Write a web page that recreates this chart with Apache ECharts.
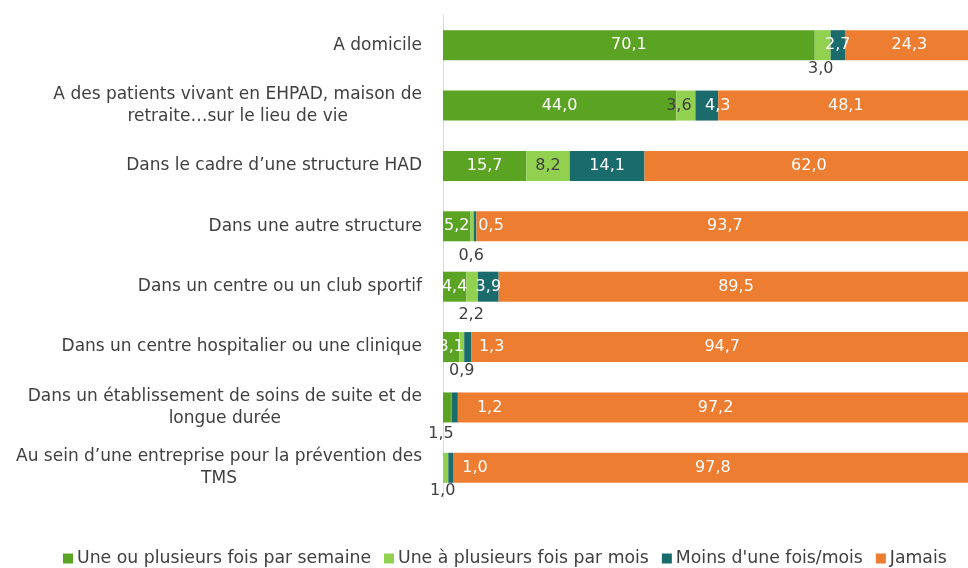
<!DOCTYPE html>
<html>
<head>
<meta charset="utf-8">
<script src="https://cdn.jsdelivr.net/npm/echarts@6/dist/echarts.min.js"></script>
<style>
  html, body { margin: 0; padding: 0; background: #ffffff; }
  #chart { width: 968px; height: 568px; }
</style>
</head>
<body>
<div id="chart"></div>
<script>
// ---- data ----
const categories = [
  "A domicile",
  "A des patients vivant en EHPAD, maison de\nretraite…sur le lieu de vie",
  "Dans le cadre d’une structure HAD",
  "Dans une autre structure",
  "Dans un centre ou un club sportif",
  "Dans un centre hospitalier ou une clinique",
  "Dans un établissement de soins de suite et de\nlongue durée",
  "Au sein d’une entreprise pour la prévention des\nTMS"
];
const seriesNames = [
  "Une ou plusieurs fois par semaine",
  "Une à plusieurs fois par mois",
  "Moins d'une fois/mois",
  "Jamais"
];
const weekly      = [70.1, 44.0, 15.7, 5.2, 4.4, 3.1, 1.5, 0];
const monthly     = [3.0, 3.6, 8.2, 0.6, 2.2, 0.9, 0.1, 1.0];
const lessMonthly = [2.7, 4.3, 14.1, 0.5, 3.9, 1.3, 1.2, 1.0];
const never       = [24.3, 48.1, 62.0, 93.7, 89.5, 94.7, 97.2, 97.8];

// ---- styling ----
const colors = ['#5BA323', '#92D050', '#1A6B6B', '#ED7D31'];
const DARK = '#404040';
const FONT = 'DejaVu Sans';

// label placement tweaks (style only), keyed by series index -> row index
const labelTweaks = {
  0: { 6: { below: true, offset: [-6, 3] }, 7: { hide: true } },
  1: {
    0: { below: true, offset: [-2, 1] },
    1: { dark: true, offset: [-7, 0] },
    2: { dark: true },
    3: { below: true, offset: [-1, 7] },
    4: { below: true, offset: [-1, 5] },
    5: { below: true, offset: [0, 1] },
    6: { hide: true },
    7: { below: true, offset: [-3, 0] }
  },
  2: {
    1: { offset: [11, 0] },
    3: { offset: [16, 0] },
    5: { offset: [24, 0] },
    6: { offset: [35, 0] },
    7: { offset: [24, 0] }
  },
  3: {}
};

const fmt = v => v.toFixed(1).replace('.', ',');

function buildData(values, si) {
  return values.map((v, i) => {
    const t = (labelTweaks[si] || {})[i];
    const item = { value: v };
    if (t) {
      if (t.hide) {
        item.label = { show: false };
      } else if (t.below) {
        item.label = { position: 'bottom', distance: 0, color: DARK };
      } else {
        item.label = { color: t.dark ? DARK : '#ffffff' };
      }
    }
    return item;
  });
}

const allValues = [weekly, monthly, lessMonthly, never];

const series = allValues.map((vals, si) => ({
  name: seriesNames[si],
  type: 'bar',
  stack: 'total',
  barWidth: 30,
  clip: false,
  itemStyle: { color: colors[si] },
  label: {
    show: true,
    position: 'inside',
    color: si === 1 ? DARK : '#ffffff',
    fontFamily: FONT,
    fontSize: 16,
    formatter: p => fmt(p.value)
  },
  labelLayout: function (params) {
    const t = (labelTweaks[si] || {})[params.dataIndex];
    const off = (t && t.offset) || [0, 0];
    return { dx: off[0], dy: off[1], hideOverlap: false };
  },
  emphasis: { disabled: true },
  data: buildData(vals, si)
}));

const chart = echarts.init(document.getElementById('chart'), null, { renderer: 'canvas' });
chart.setOption({
  animation: false,
  backgroundColor: '#ffffff',
  textStyle: { fontFamily: FONT },
  grid: { left: 443, top: 15, right: 0, height: 483, containLabel: false },
  xAxis: {
    type: 'value',
    min: 0,
    max: 99,
    show: false,
    splitLine: { show: false }
  },
  yAxis: {
    type: 'category',
    inverse: true,
    data: categories,
    axisLine: { show: true, lineStyle: { color: '#D9D9D9', width: 1 } },
    axisTick: { show: false },
    axisLabel: {
      margin: 21,
      align: 'right',
      fontFamily: FONT,
      fontSize: 17,
      color: DARK,
      formatter: v => v.split('\n').map(l => '{c|' + l + '}').join('\n'),
      rich: {
        c: { align: 'center', fontFamily: FONT, fontSize: 17, color: DARK, lineHeight: 22 }
      }
    }
  },
  legend: {
    data: seriesNames,
    left: 58,
    top: 545,
    itemWidth: 10,
    itemHeight: 10,
    itemGap: 13,
    icon: 'rect',
    textStyle: { fontFamily: FONT, fontSize: 17.3, color: DARK, padding: [0, 0, 0, -1] }
  },
  series: series
});
</script>
</body>
</html>
